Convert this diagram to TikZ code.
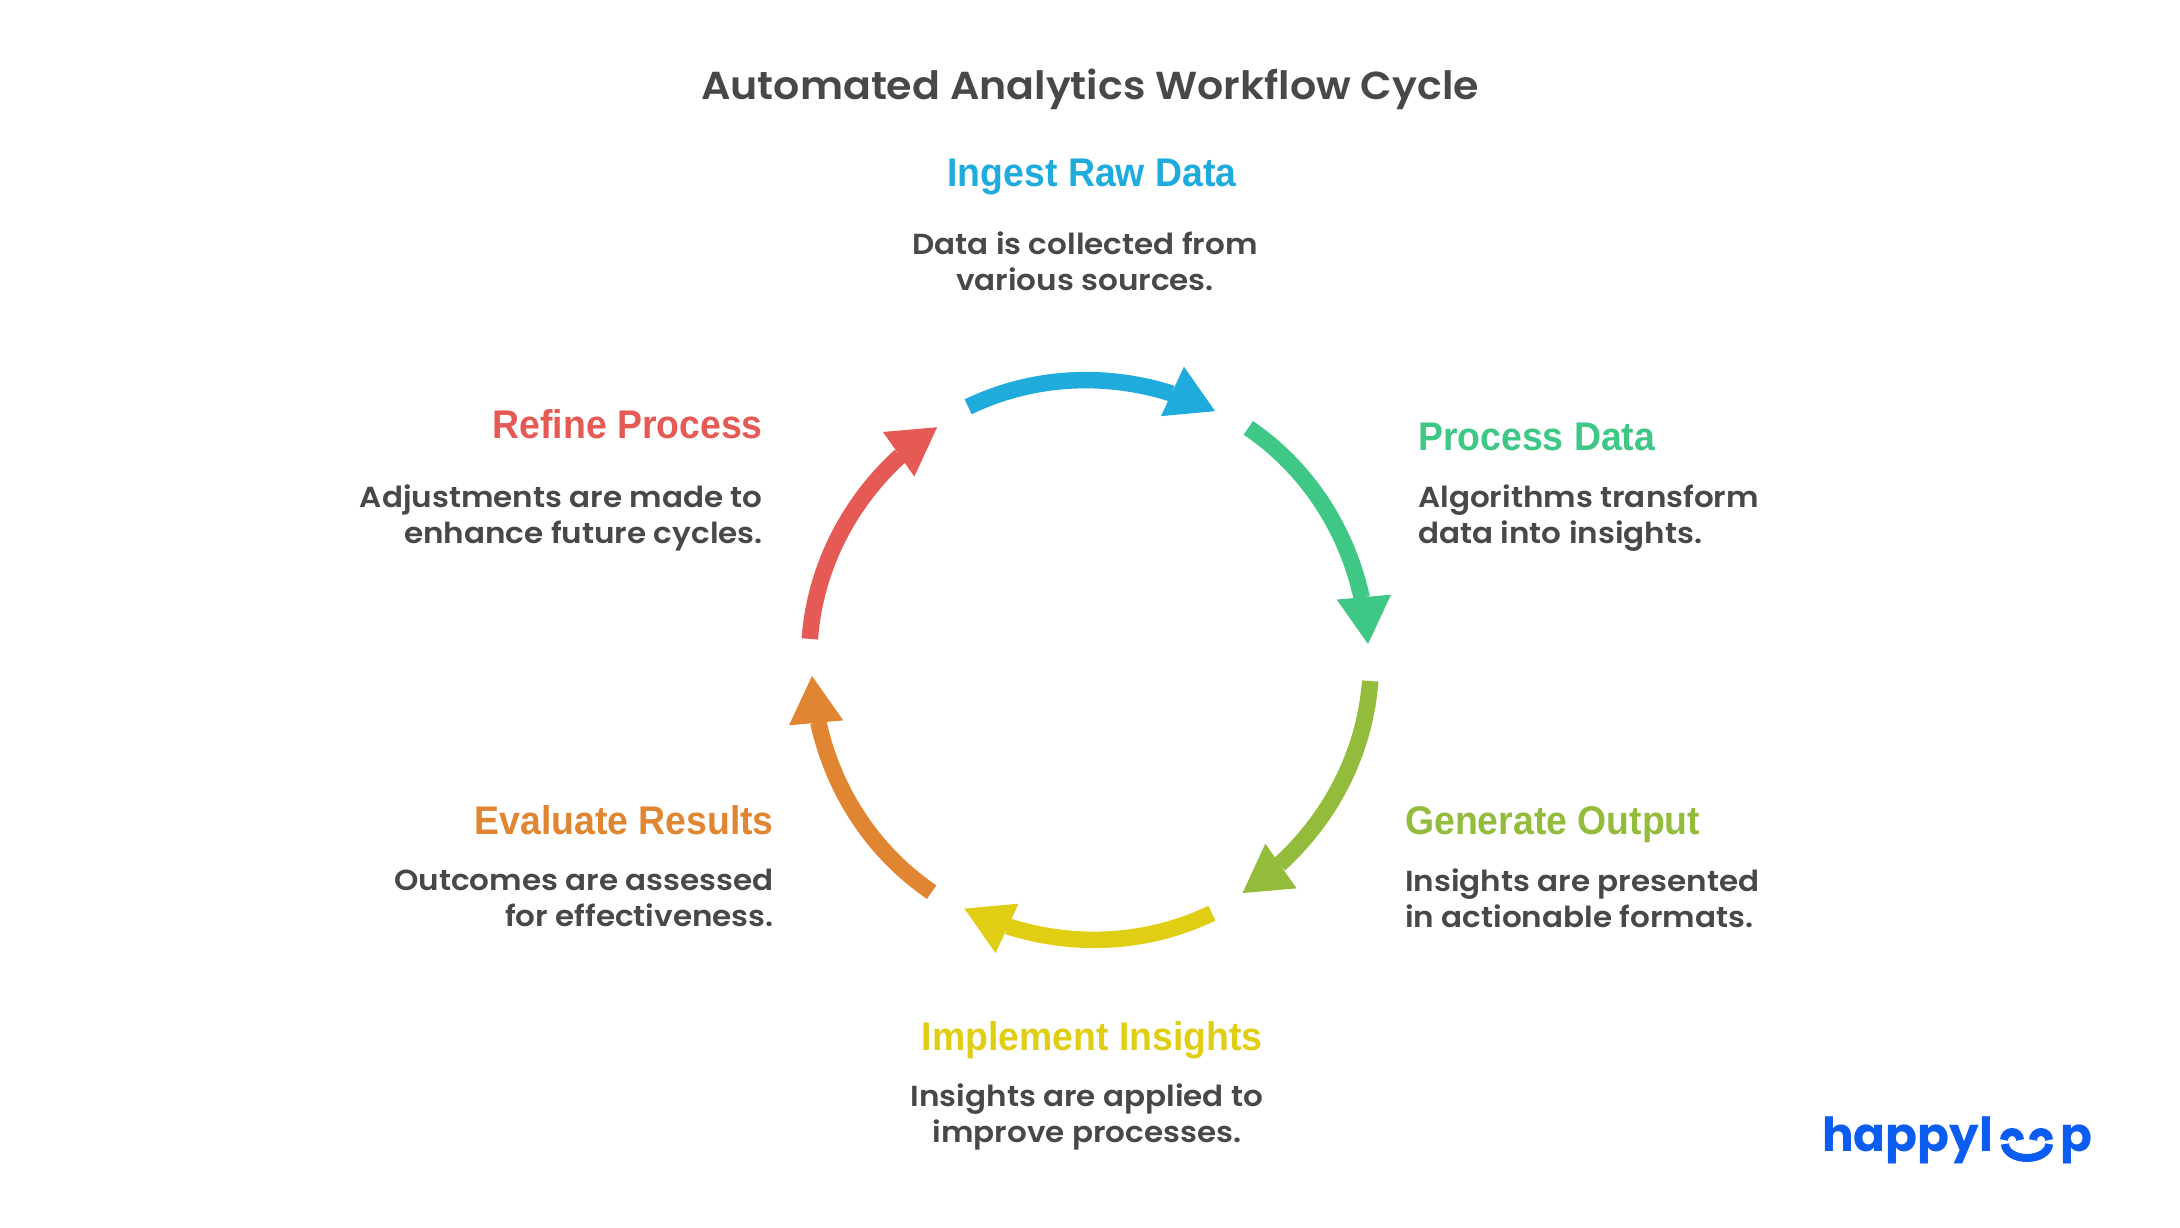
\documentclass[tikz,border=0pt]{standalone}
\usepackage{fontspec}
\usetikzlibrary{arrows.meta,calc,bending}
\setmainfont{Poppins SemiBold}
\newfontfamily\ttlfont{Poppins SemiBold}[FakeStretch=1.055]
\newfontfamily\descfont{Poppins SemiBold}[FakeStretch=1.07]
\newfontfamily\headfont{Liberation Sans Bold}[FakeStretch=0.935]
\newfontfamily\logofont{Poppins Bold}
\definecolor{ink}{HTML}{484848}
\definecolor{cblue}{HTML}{1FABDC}
\definecolor{cgreen}{HTML}{3EC785}
\definecolor{clime}{HTML}{94BC3C}
\definecolor{cyellow}{HTML}{E0CE14}
\definecolor{corange}{HTML}{E08632}
\definecolor{cred}{HTML}{E55A55}
\definecolor{clogo}{HTML}{0B5CF0}
\tikzset{
  x=1pt,y=1pt,
  arrowline/.style={line width=16.5pt,line cap=butt,-{Triangle[length=47pt,width=54.5pt,line width=0pt,flex=.4]},color=#1,looseness=.9},
  ttl/.style={font=\ttlfont\fontsize{39}{44}\selectfont,text=ink,inner sep=0pt},
  head/.style={font=\headfont\fontsize{40}{42}\selectfont,text=#1,inner sep=0pt},
  desc/.style={font=\descfont\fontsize{29}{36}\selectfont,text=ink,inner sep=0pt,align=#1},
  logotxt/.style={font=\logofont\fontsize{47}{48}\selectfont,text=clogo,inner sep=0pt},
  logoarc/.style={draw=clogo,line width=8pt,line cap=butt},
}
\begin{document}
\begin{tikzpicture}
\useasboundingbox (0,0) rectangle (2180,1228);
\coordinate (c) at (1090,568);
\node[ttl,anchor=base] (title) at (1090,1128) {Automated Analytics Workflow Cycle};
% arrows
\coordinate (s1) at ($(c)+(115.7:281)$); \coordinate (t1) at ($(c)+(63.3:278.5)$);
\coordinate (s2) at ($(c)+(55.7:281)$);  \coordinate (t2) at ($(c)+(3.3:278.5)$);
\coordinate (s3) at ($(c)+(-4.3:281)$);  \coordinate (t3) at ($(c)+(-56.8:278.5)$);
\coordinate (s4) at ($(c)+(-64.3:281)$); \coordinate (t4) at ($(c)+(-116.8:278.5)$);
\coordinate (s5) at ($(c)+(-124.3:281)$);\coordinate (t5) at ($(c)+(-176.7:278.5)$);
\coordinate (s6) at ($(c)+(175.7:281)$); \coordinate (t6) at ($(c)+(123.3:278.5)$);
\draw[arrowline=cblue]   (s1) to[out=25.7,in=153.3] (t1);
\draw[arrowline=cgreen]  (s2) to[out=-34.3,in=93.3] (t2);
\draw[arrowline=clime]   (s3) to[out=-94.3,in=33.2] (t3);
\draw[arrowline=cyellow] (s4) to[out=-154.3,in=-26.8] (t4);
\draw[arrowline=corange] (s5) to[out=145.7,in=-86.7] (t5);
\draw[arrowline=cred]    (s6) to[out=85.7,in=-146.7] (t6);
% labels
\node[head=cblue,anchor=base]  (h1) at (1092,1041) {Ingest Raw Data};
\node[desc=center] (d1) at (1085,967) {Data is collected from\\various sources.};
\node[head=cgreen,anchor=base west] (h2) at (1418,777) {Process Data};
\node[desc=left,anchor=west] (d2) at (1418,710) {Algorithms transform\\data into insights.};
\node[head=clime,anchor=base west] (h3) at (1405,393) {Generate Output};
\node[desc=left,anchor=west] (d3) at (1405,330) {Insights are presented\\in actionable formats.};
\node[head=cyellow,anchor=base] (h4) at (1092,177) {Implement Insights};
\node[desc=center] (d4) at (1087,111) {Insights are applied to\\improve processes.};
\node[head=corange,anchor=base east] (h5) at (774,393) {Evaluate Results};
\node[desc=right,anchor=east] (d5) at (774,330) {Outcomes are assessed\\for effectiveness.};
\node[head=cred,anchor=base east] (h6) at (763,789) {Refine Process};
\node[desc=right,anchor=east] (d6) at (763,710) {Adjustments are made to\\enhance future cycles.};
% logo
\node[logotxt,anchor=base west] (logoa) at (1822,76) {happyl};
\node[logotxt,anchor=base west] (logob) at (2060,76) {p};
\draw[logoarc] (2004,88) arc[start angle=180,end angle=0,radius=8];
\draw[logoarc] (2033,88) arc[start angle=180,end angle=0,radius=8];
\draw[logoarc] (2005,84) arc[start angle=180,end angle=360,x radius=22,y radius=14];
\end{tikzpicture}
\end{document}
